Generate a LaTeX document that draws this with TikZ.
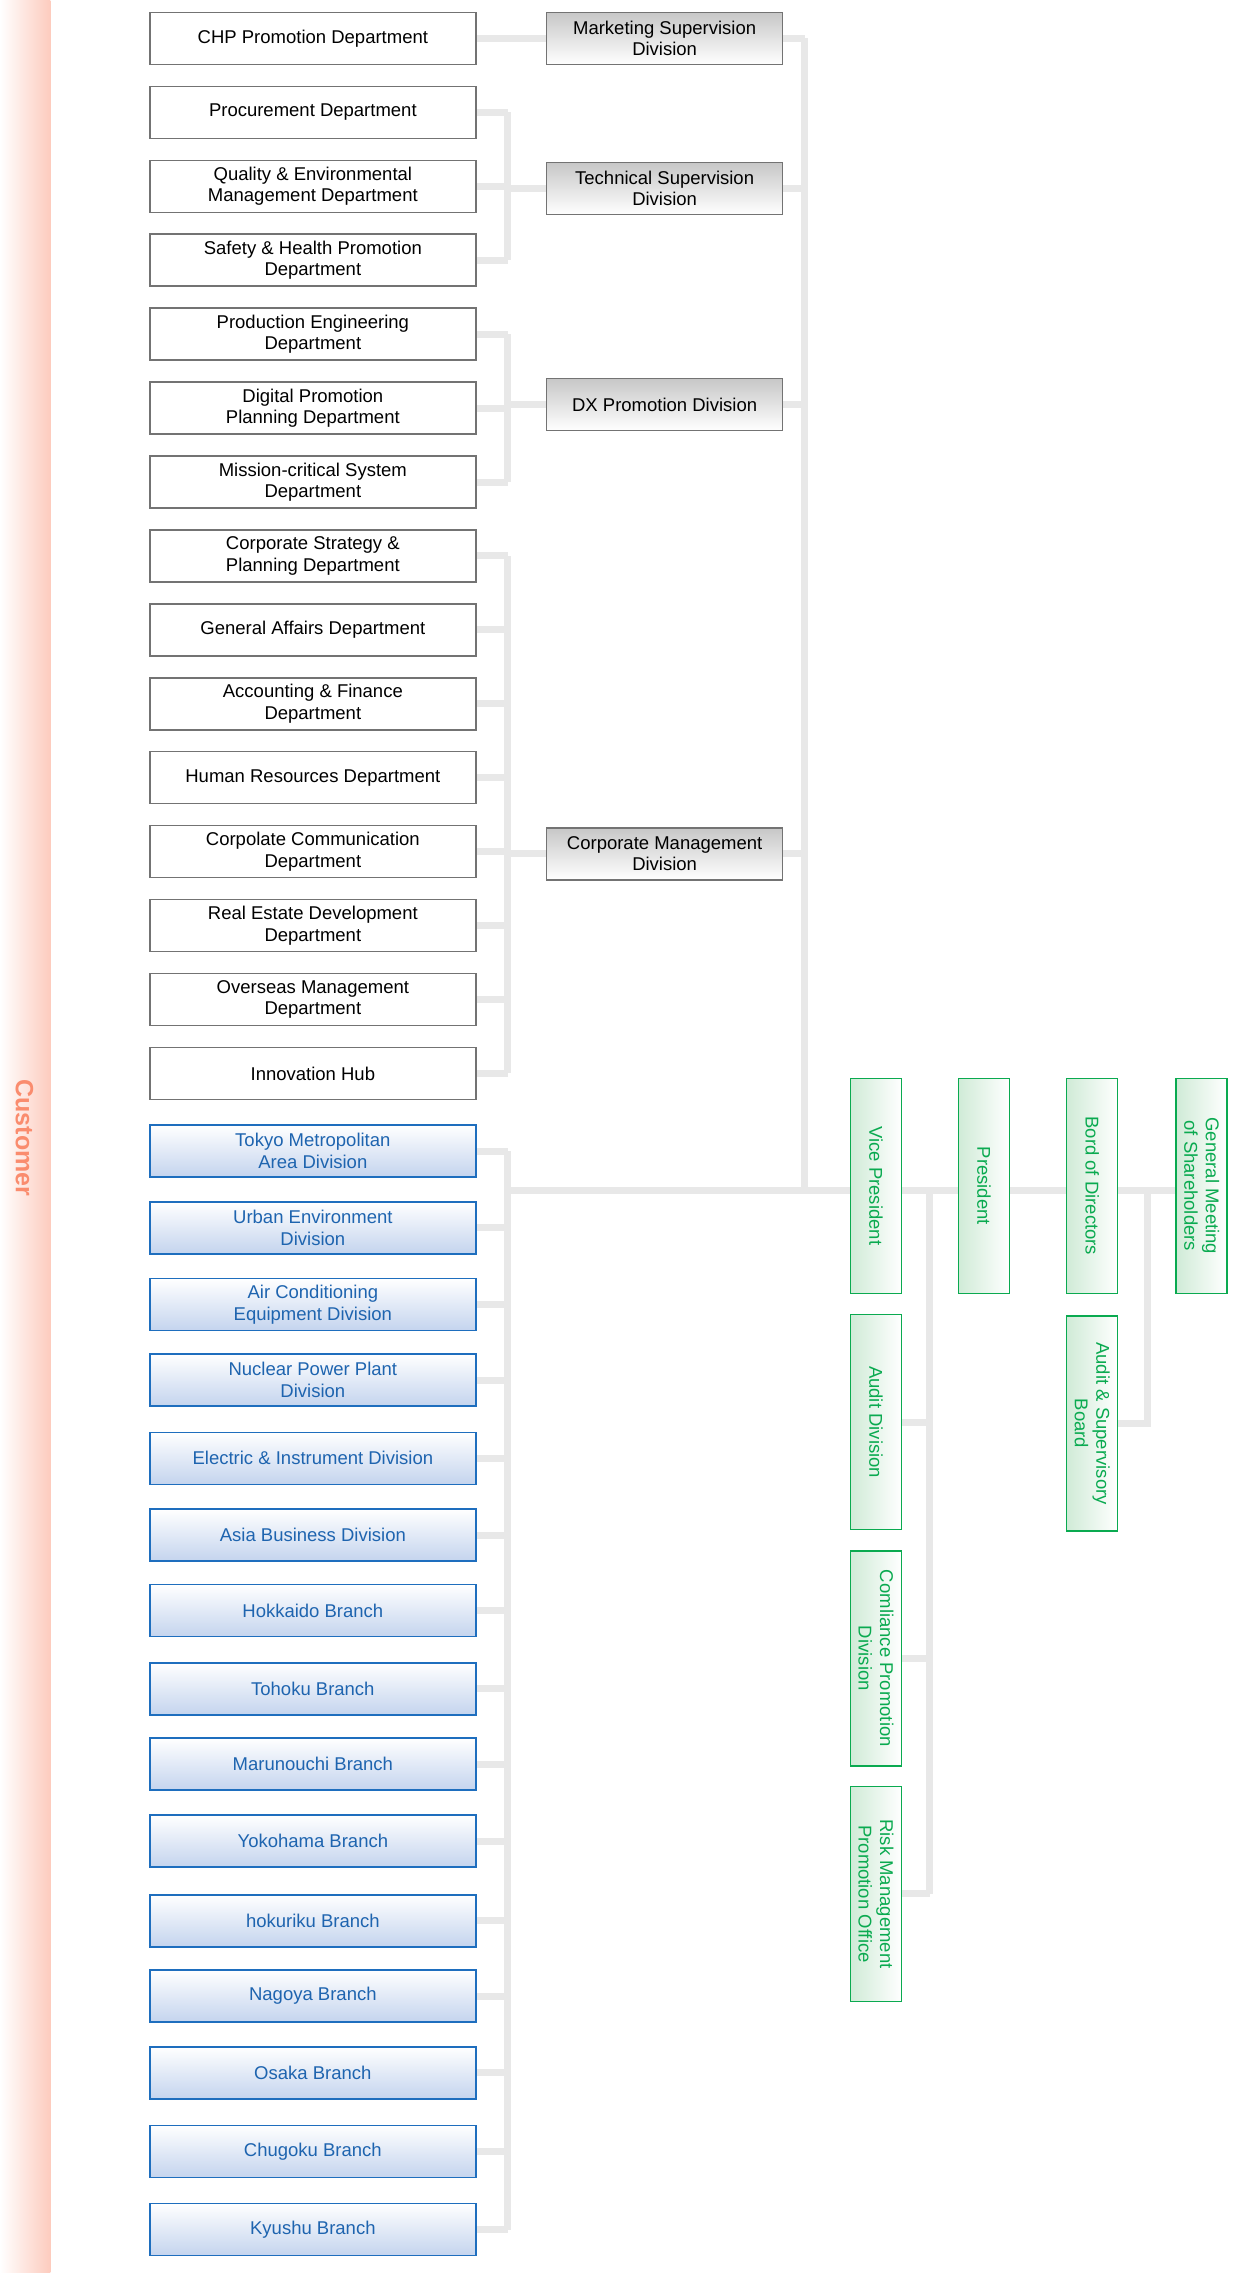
\documentclass[tikz,border=0pt]{standalone}
\usepackage{fontspec}
\setmainfont{Liberation Sans}
\usetikzlibrary{backgrounds,shadings}
\definecolor{lgray}{RGB}{232,232,232}
\definecolor{dblue}{RGB}{30,110,190}
\definecolor{tblue}{RGB}{30,100,175}
\definecolor{lblue}{RGB}{196,212,238}
\definecolor{gr}{RGB}{10,170,80}
\definecolor{lgr}{RGB}{208,235,215}
\definecolor{salmon}{RGB}{250,140,110}
\tikzset{
  base/.style={line width=1.5pt, align=center, inner sep=1pt, font=\fontsize{18.5}{21.5}\selectfont},
  dept/.style={base, draw=black!55, fill=white, minimum width=326pt, minimum height=52pt},
  divn/.style={base, draw=black!55, top color=black!22, bottom color=white, minimum width=236pt, minimum height=52pt},
  bdept/.style={base, draw=dblue, text=tblue, top color=white, bottom color=lblue, minimum width=326pt, minimum height=52pt},
  gbox/.style={base, draw=gr, text=gr, left color=lgr, right color=white, rotate=-90, minimum width=215pt, minimum height=51pt},
  conn/.style={draw=lgray, line width=7pt},
}
\begin{document}
\begin{tikzpicture}[x=1.44172pt,y=-1.4496pt]
\useasboundingbox (0,0) rectangle (858,1568);
\shade[left color=white, right color=salmon!45] (0,0) rectangle (35,1568);
\node[rotate=-90, text=salmon, font=\fontsize{25}{29}\bfseries\selectfont] (cust) at (17,785) {Customer};
% departments
\node[dept] (chp) at (217,26.5) {CHP Promotion Department};
\node[dept] (proc) at (217,77.5) {Procurement Department};
\node[dept] (qual) at (217,128.5) {Quality \& Environmental\\Management Department};
\node[dept] (safe) at (217,179.5) {Safety \& Health Promotion\\Department};
\node[dept] (prod) at (217,230.5) {Production Engineering\\Department};
\node[dept] (digi) at (217,281.5) {Digital Promotion\\Planning Department};
\node[dept] (miss) at (217,332.5) {Mission-critical System\\Department};
\node[dept] (cstr) at (217,383.5) {Corporate Strategy \&\\Planning Department};
\node[dept] (gen) at (217,434.5) {General Affairs Department};
\node[dept] (acc) at (217,485.5) {Accounting \& Finance\\Department};
\node[dept] (hr) at (217,536.5) {Human Resources Department};
\node[dept] (ccom) at (217,587.5) {Corpolate Communication\\Department};
\node[dept] (real) at (217,638.5) {Real Estate Development\\Department};
\node[dept] (over) at (217,689.5) {Overseas Management\\Department};
\node[dept] (inno) at (217,740.5) {Innovation Hub};
% divisions
\node[divn] (mkt) at (461,26.5) {Marketing Supervision\\Division};
\node[divn] (tech) at (461,130) {Technical Supervision\\Division};
\node[divn] (dx) at (461,279) {DX Promotion Division};
\node[divn] (cmg) at (461,589) {Corporate Management\\Division};
% blue
\node[bdept] (b1) at (217,794) {Tokyo Metropolitan\\Area Division};
\node[bdept] (b2) at (217,847) {Urban Environment\\Division};
\node[bdept] (b3) at (217,900) {Air Conditioning\\Equipment Division};
\node[bdept] (b4) at (217,952) {Nuclear Power Plant\\Division};
\node[bdept] (b5) at (217,1006) {Electric \& Instrument Division};
\node[bdept] (b6) at (217,1059) {Asia Business Division};
\node[bdept] (b7) at (217,1111) {Hokkaido Branch};
\node[bdept] (b8) at (217,1165) {Tohoku Branch};
\node[bdept] (b9) at (217,1217) {Marunouchi Branch};
\node[bdept] (b10) at (217,1270) {Yokohama Branch};
\node[bdept] (b11) at (217,1325) {hokuriku Branch};
\node[bdept] (b12) at (217,1377) {Nagoya Branch};
\node[bdept] (b13) at (217,1430) {Osaka Branch};
\node[bdept] (b14) at (217,1484) {Chugoku Branch};
\node[bdept] (b15) at (217,1538) {Kyushu Branch};
% green
\node[gbox] (vp) at (607.5,818) {Vice President};
\node[gbox] (pres) at (682.5,818) {President};
\node[gbox] (bod) at (757.5,818) {Bord of Directors};
\node[gbox] (gm) at (833.5,818) {General Meeting\\of Shareholders};
\node[gbox] (aud) at (607.5,981) {Audit Division};
\node[gbox] (comp) at (607.5,1144) {Comliance Promotion\\Division};
\node[gbox] (risk) at (607.5,1306.5) {Risk Management\\Promotion Office};
\node[gbox] (asb) at (757.5,982) {Audit \& Supervisory\\Board};
\coordinate (tl) at (352,0);
\coordinate (tr) at (558,0);
\coordinate (tg) at (645,0);
\coordinate (tb) at (796,0);
\coordinate (main) at (0,821);
\begin{scope}[on background layer]
\draw[conn] (chp.east) -- (chp.east -| mkt.west);
\foreach \n in {proc,qual,safe,prod,digi,miss,cstr,gen,acc,hr,ccom,real,over,inno,b1,b2,b3,b4,b5,b6,b7,b8,b9,b10,b11,b12,b13,b14,b15}
  \draw[conn] (\n.east) -- (\n.east -| tl);
\draw[conn] (proc.east -| tl) -- (safe.east -| tl);
\draw[conn] (prod.east -| tl) -- (miss.east -| tl);
\draw[conn] (cstr.east -| tl) -- (inno.east -| tl);
\draw[conn] (b1.east -| tl) -- (b15.east -| tl);
\draw[conn] (tech.west -| tl) -- (tech.west);
\draw[conn] (dx.west -| tl) -- (dx.west);
\draw[conn] (cmg.west -| tl) -- (cmg.west);
\foreach \n in {mkt,tech,dx,cmg} \draw[conn] (\n.east) -- (\n.east -| tr);
\draw[conn] (mkt.east -| tr) -- (main -| tr);
\draw[conn] (main -| tl) -- (main -| vp.north);
\draw[conn] (main -| vp.south) -- (main -| gm.north);
\draw[conn] (main -| tg) -- (risk.center -| tg);
\foreach \n in {aud,comp,risk} \draw[conn] (\n.south) -- (\n.center -| tg);
\draw[conn] (main -| tb) -- (asb.center -| tb) -- (asb.south);
\end{scope}
\end{tikzpicture}
\end{document}
